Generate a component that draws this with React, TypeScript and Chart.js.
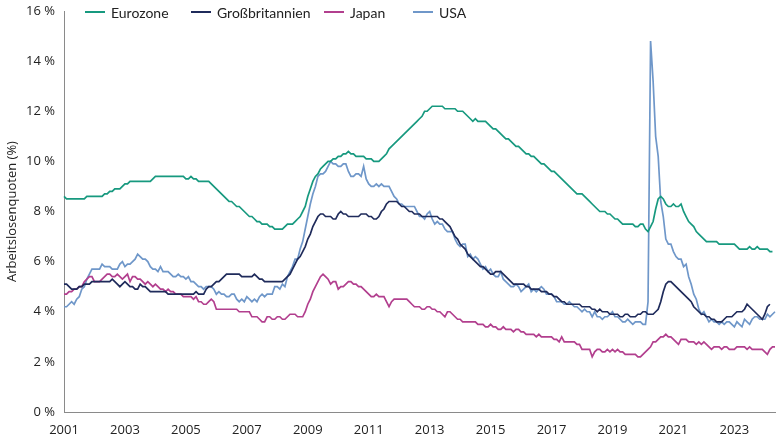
import React, { useEffect, useRef } from "react";
import { Chart, registerables } from "chart.js";

Chart.register(...registerables);

// ---- Data (monthly, Jan 2001 onward) ----
const startYear = 2001;
const monthCount = 281; // Jan 2001 .. May 2024

const eurozone = [
  8.6, 8.5, 8.5, 8.5, 8.5, 8.5, 8.5, 8.5, 8.5, 8.6, 8.6, 8.6,
  8.6, 8.6, 8.6, 8.6, 8.7, 8.7, 8.8, 8.8, 8.9, 8.9, 8.9, 9.0,
  9.1, 9.1, 9.2, 9.2, 9.2, 9.2, 9.2, 9.2, 9.2, 9.2, 9.2, 9.3,
  9.4, 9.4, 9.4, 9.4, 9.4, 9.4, 9.4, 9.4, 9.4, 9.4, 9.4, 9.4,
  9.3, 9.3, 9.4, 9.3, 9.3, 9.2, 9.2, 9.2, 9.2, 9.2, 9.1, 9.0,
  8.9, 8.8, 8.7, 8.6, 8.5, 8.4, 8.4, 8.3, 8.2, 8.2, 8.1, 8.0,
  7.9, 7.8, 7.8, 7.7, 7.6, 7.6, 7.5, 7.5, 7.5, 7.4, 7.4, 7.3,
  7.3, 7.3, 7.3, 7.4, 7.5, 7.5, 7.5, 7.6, 7.7, 7.8, 8.0, 8.2,
  8.6, 8.9, 9.2, 9.4, 9.5, 9.7, 9.8, 9.9, 10.0, 10.0, 10.1, 10.1,
  10.2, 10.2, 10.3, 10.3, 10.4, 10.3, 10.3, 10.2, 10.2, 10.2, 10.2, 10.1,
  10.1, 10.1, 10.0, 10.0, 10.0, 10.1, 10.2, 10.3, 10.5, 10.6, 10.7, 10.8,
  10.9, 11.0, 11.1, 11.2, 11.3, 11.4, 11.5, 11.6, 11.7, 11.8, 12.0, 12.0,
  12.1, 12.2, 12.2, 12.2, 12.2, 12.2, 12.1, 12.1, 12.1, 12.1, 12.1, 12.0,
  12.0, 12.0, 11.9, 11.8, 11.7, 11.6, 11.7, 11.6, 11.6, 11.6, 11.6, 11.5,
  11.4, 11.3, 11.3, 11.2, 11.1, 11.0, 10.9, 10.9, 10.8, 10.7, 10.6, 10.6,
  10.5, 10.4, 10.3, 10.3, 10.2, 10.2, 10.1, 10.0, 9.9, 9.9, 9.8, 9.7,
  9.6, 9.6, 9.5, 9.4, 9.3, 9.2, 9.1, 9.0, 8.9, 8.8, 8.7, 8.7,
  8.7, 8.6, 8.5, 8.4, 8.3, 8.2, 8.1, 8.0, 8.0, 8.0, 7.9, 7.9,
  7.8, 7.7, 7.7, 7.6, 7.5, 7.5, 7.5, 7.5, 7.5, 7.4, 7.4, 7.5,
  7.5, 7.3, 7.2, 7.4, 7.6, 8.1, 8.5, 8.6, 8.5, 8.3, 8.2, 8.2,
  8.3, 8.2, 8.2, 8.3, 8.0, 7.8, 7.6, 7.5, 7.4, 7.2, 7.1, 7.0,
  6.9, 6.8, 6.8, 6.8, 6.8, 6.8, 6.7, 6.7, 6.7, 6.7, 6.7, 6.7,
  6.7, 6.6, 6.5, 6.5, 6.5, 6.5, 6.6, 6.5, 6.5, 6.6, 6.5, 6.5,
  6.5, 6.5, 6.4, 6.4,
];

const grossbritannien = [
  5.1, 5.1, 5.0, 4.9, 4.9, 4.9, 5.0, 5.0, 5.1, 5.1, 5.1, 5.2,
  5.2, 5.2, 5.2, 5.2, 5.2, 5.2, 5.2, 5.3, 5.2, 5.1, 5.0, 5.1,
  5.2, 5.1, 5.0, 5.0, 4.9, 4.9, 5.1, 5.0, 5.0, 4.9, 4.8, 4.8,
  4.8, 4.8, 4.8, 4.8, 4.8, 4.7, 4.7, 4.7, 4.7, 4.7, 4.7, 4.7,
  4.7, 4.7, 4.7, 4.7, 4.8, 4.7, 4.7, 4.7, 4.9, 5.0, 5.0, 5.1,
  5.2, 5.2, 5.3, 5.4, 5.5, 5.5, 5.5, 5.5, 5.5, 5.5, 5.4, 5.4,
  5.4, 5.4, 5.4, 5.5, 5.4, 5.3, 5.3, 5.2, 5.2, 5.2, 5.2, 5.2,
  5.2, 5.2, 5.2, 5.3, 5.4, 5.5, 5.7, 5.9, 6.1, 6.2, 6.4, 6.6,
  6.9, 7.1, 7.4, 7.6, 7.8, 7.9, 7.9, 7.8, 7.8, 7.8, 7.7, 7.7,
  7.9, 8.0, 7.9, 7.9, 7.8, 7.8, 7.8, 7.8, 7.8, 7.9, 7.9, 7.9,
  7.8, 7.8, 7.7, 7.7, 7.8, 8.0, 8.1, 8.3, 8.4, 8.4, 8.4, 8.4,
  8.3, 8.2, 8.2, 8.1, 8.0, 8.0, 7.9, 7.9, 7.9, 7.8, 7.8, 7.8,
  7.8, 7.8, 7.8, 7.8, 7.7, 7.7, 7.6, 7.5, 7.4, 7.2, 7.0, 6.9,
  6.7, 6.6, 6.5, 6.3, 6.2, 6.1, 6.0, 5.9, 5.8, 5.8, 5.7, 5.6,
  5.5, 5.5, 5.6, 5.6, 5.6, 5.5, 5.4, 5.3, 5.2, 5.1, 5.1, 5.1,
  5.1, 5.1, 5.0, 5.0, 4.9, 4.9, 4.9, 4.9, 4.8, 4.8, 4.8, 4.7,
  4.7, 4.6, 4.6, 4.5, 4.4, 4.4, 4.3, 4.3, 4.3, 4.3, 4.3, 4.3,
  4.2, 4.2, 4.2, 4.2, 4.1, 4.1, 4.0, 4.1, 4.0, 4.0, 4.0, 3.9,
  3.9, 3.9, 3.9, 3.8, 3.8, 3.9, 3.9, 3.8, 3.8, 3.8, 3.9, 3.9,
  4.0, 4.0, 3.9, 3.9, 3.9, 4.0, 4.1, 4.4, 4.8, 5.1, 5.2, 5.2,
  5.1, 5.0, 4.9, 4.8, 4.7, 4.6, 4.5, 4.4, 4.2, 4.1, 4.0, 3.9,
  3.9, 3.8, 3.8, 3.7, 3.7, 3.6, 3.6, 3.6, 3.7, 3.8, 3.8, 3.8,
  3.9, 4.0, 4.0, 4.0, 4.1, 4.3, 4.2, 4.1, 4.0, 3.9, 3.8, 3.7,
  3.9, 4.2, 4.3,
];

const japan = [
  4.7, 4.7, 4.8, 4.8, 4.9, 4.9, 5.0, 5.0, 5.2, 5.3, 5.4, 5.4,
  5.2, 5.2, 5.2, 5.3, 5.4, 5.5, 5.5, 5.4, 5.4, 5.5, 5.4, 5.3,
  5.4, 5.5, 5.2, 5.4, 5.4, 5.3, 5.3, 5.2, 5.1, 5.2, 5.1, 5.0,
  5.1, 5.0, 4.9, 4.9, 4.8, 4.9, 4.8, 4.8, 4.7, 4.7, 4.7, 4.6,
  4.6, 4.6, 4.6, 4.5, 4.6, 4.4, 4.4, 4.3, 4.3, 4.4, 4.5, 4.4,
  4.1, 4.1, 4.1, 4.1, 4.1, 4.1, 4.1, 4.1, 4.1, 4.0, 4.0, 4.0,
  4.0, 4.0, 3.8, 3.8, 3.8, 3.7, 3.6, 3.6, 3.8, 3.8, 3.7, 3.7,
  3.8, 3.8, 3.7, 3.7, 3.8, 3.9, 3.9, 3.9, 3.8, 3.8, 3.8, 4.0,
  4.3, 4.5, 4.8, 5.0, 5.2, 5.4, 5.5, 5.4, 5.3, 5.1, 5.2, 5.2,
  4.9, 5.0, 5.0, 5.1, 5.2, 5.2, 5.1, 5.1, 5.0, 5.0, 4.9, 4.8,
  4.7, 4.6, 4.6, 4.7, 4.6, 4.6, 4.6, 4.4, 4.2, 4.4, 4.5, 4.5,
  4.5, 4.5, 4.5, 4.5, 4.4, 4.3, 4.2, 4.2, 4.2, 4.1, 4.1, 4.2,
  4.2, 4.1, 4.1, 4.0, 4.0, 3.9, 3.8, 4.0, 4.0, 3.9, 3.8, 3.7,
  3.7, 3.6, 3.6, 3.6, 3.6, 3.6, 3.6, 3.5, 3.5, 3.5, 3.4, 3.4,
  3.5, 3.4, 3.4, 3.3, 3.3, 3.4, 3.3, 3.3, 3.3, 3.2, 3.3, 3.3,
  3.2, 3.2, 3.1, 3.1, 3.1, 3.1, 3.0, 3.1, 3.0, 3.0, 3.0, 3.0,
  3.0, 2.9, 2.9, 2.8, 3.0, 2.8, 2.8, 2.8, 2.8, 2.8, 2.7, 2.7,
  2.5, 2.5, 2.5, 2.5, 2.2, 2.4, 2.5, 2.5, 2.4, 2.4, 2.5, 2.4,
  2.5, 2.4, 2.5, 2.4, 2.4, 2.3, 2.3, 2.3, 2.3, 2.3, 2.2, 2.2,
  2.3, 2.4, 2.5, 2.6, 2.8, 2.8, 2.9, 3.0, 3.0, 3.1, 3.0, 3.0,
  2.9, 2.8, 2.7, 2.9, 2.9, 2.9, 2.8, 2.8, 2.8, 2.7, 2.8, 2.7,
  2.8, 2.7, 2.6, 2.5, 2.6, 2.6, 2.6, 2.5, 2.6, 2.6, 2.5, 2.5,
  2.5, 2.6, 2.6, 2.6, 2.6, 2.5, 2.6, 2.5, 2.5, 2.5, 2.5, 2.5,
  2.4, 2.3, 2.5, 2.6, 2.6,
];

const usa = [
  4.2, 4.2, 4.3, 4.4, 4.3, 4.5, 4.6, 4.9, 5.0, 5.3, 5.5, 5.7,
  5.7, 5.7, 5.7, 5.9, 5.8, 5.8, 5.8, 5.7, 5.7, 5.7, 5.9, 6.0,
  5.8, 5.9, 5.9, 6.0, 6.1, 6.3, 6.2, 6.1, 6.1, 6.0, 5.8, 5.7,
  5.7, 5.6, 5.8, 5.6, 5.6, 5.6, 5.5, 5.4, 5.4, 5.5, 5.4, 5.4,
  5.3, 5.4, 5.2, 5.2, 5.1, 5.0, 5.0, 4.9, 5.0, 5.0, 5.0, 4.9,
  4.7, 4.8, 4.7, 4.7, 4.6, 4.6, 4.7, 4.7, 4.5, 4.4, 4.5, 4.4,
  4.6, 4.5, 4.4, 4.5, 4.4, 4.6, 4.7, 4.6, 4.7, 4.7, 4.7, 5.0,
  5.0, 4.9, 5.1, 5.0, 5.4, 5.6, 5.8, 6.1, 6.1, 6.5, 6.8, 7.3,
  7.8, 8.3, 8.7, 9.0, 9.4, 9.5, 9.5, 9.6, 9.8, 10.0, 9.9, 9.9,
  9.8, 9.8, 9.9, 9.9, 9.6, 9.4, 9.4, 9.5, 9.5, 9.4, 9.8, 9.3,
  9.1, 9.0, 9.0, 9.1, 9.0, 9.1, 9.0, 9.0, 9.0, 8.8, 8.6, 8.5,
  8.3, 8.3, 8.2, 8.2, 8.2, 8.2, 8.2, 8.0, 7.8, 7.8, 7.7, 7.9,
  8.0, 7.7, 7.5, 7.6, 7.5, 7.5, 7.3, 7.2, 7.2, 7.2, 6.9, 6.7,
  6.6, 6.7, 6.7, 6.2, 6.3, 6.1, 6.2, 6.1, 5.9, 5.7, 5.8, 5.6,
  5.7, 5.5, 5.4, 5.4, 5.6, 5.3, 5.2, 5.1, 5.0, 5.0, 5.1, 5.0,
  4.8, 4.9, 5.0, 5.1, 4.8, 4.9, 4.8, 4.9, 5.0, 4.9, 4.7, 4.7,
  4.7, 4.6, 4.4, 4.4, 4.4, 4.3, 4.3, 4.4, 4.3, 4.2, 4.2, 4.1,
  4.0, 4.1, 4.0, 4.0, 3.8, 4.0, 3.8, 3.8, 3.7, 3.8, 3.8, 3.9,
  4.0, 3.8, 3.8, 3.7, 3.6, 3.6, 3.7, 3.6, 3.5, 3.6, 3.6, 3.6,
  3.5, 3.5, 4.4, 14.8, 13.2, 11.0, 10.2, 8.4, 7.8, 6.9, 6.7, 6.7,
  6.4, 6.2, 6.1, 6.1, 5.8, 5.9, 5.4, 5.1, 4.7, 4.5, 4.1, 3.9,
  4.0, 3.8, 3.6, 3.7, 3.6, 3.6, 3.5, 3.6, 3.5, 3.6, 3.6, 3.5,
  3.4, 3.6, 3.5, 3.4, 3.7, 3.6, 3.5, 3.7, 3.8, 3.8, 3.7, 3.7,
  3.7, 3.9, 3.8, 3.9, 4.0,
];

const tickYears = [2001, 2003, 2005, 2007, 2009, 2011, 2013, 2015, 2017, 2019, 2021, 2023];
const yTicks = [0, 2, 4, 6, 8, 10, 12, 14, 16];

const seriesNames = ["Eurozone", "Großbritannien", "Japan", "USA"];
const seriesColors = ["#17997f", "#1f2b5b", "#b23f8e", "#6f97c9"];
const seriesData = [eurozone, grossbritannien, japan, usa];

const yTitle = "Arbeitslosenquoten (%)";

const labels: string[] = [];
for (let i = 0; i < monthCount; i++) {
  const y = startYear + Math.floor(i / 12);
  const m = (i % 12) + 1;
  labels.push(`${y}-${m < 10 ? "0" + m : m}`);
}

const FONT = "'Open Sans', 'Noto Sans', sans-serif";
const LEGEND_FONT = "Lato, 'Open Sans', sans-serif";
const legendLeft = [85, 191, 324, 413];

export default function App() {
  const canvasRef = useRef<HTMLCanvasElement | null>(null);

  useEffect(() => {
    document.body.style.margin = "0";
    const canvas = canvasRef.current;
    if (!canvas) return;
    const chart = new Chart(canvas, {
      type: "line",
      data: {
        labels,
        datasets: seriesData.map((d, i) => ({
          label: seriesNames[i],
          data: d,
          borderColor: seriesColors[i],
          backgroundColor: seriesColors[i],
          borderWidth: 1.7,
          pointRadius: 0,
          tension: 0,
          fill: false,
        })),
      },
      options: {
        responsive: false,
        animation: false,
        layout: { padding: { top: 11, right: 5, bottom: 0, left: 0 } },
        plugins: {
          legend: { display: false },
          tooltip: { enabled: false },
        },
        scales: {
          x: {
            type: "category",
            offset: false,
            grid: { display: false, drawTicks: true, tickLength: 8 },
            border: { display: true, color: "#8a8a8a", width: 1 },
            ticks: {
              autoSkip: false,
              maxRotation: 0,
              minRotation: 0,
              padding: 2,
              color: "#222",
              font: { family: FONT, size: 13 },
              callback: (_v: any, idx: number) => {
                const lab = labels[idx];
                const yr = Number(lab.slice(0, 4));
                const mo = lab.slice(5);
                return mo === "01" && tickYears.includes(yr) ? String(yr) : "";
              },
            },
            afterFit: (scale: any) => {
              scale.height = 28;
            },
          },
          y: {
            min: 0,
            max: 16,
            grid: { display: false, drawTicks: true, tickLength: 8 },
            border: { display: true, color: "#8a8a8a", width: 1 },
            afterBuildTicks: (scale: any) => {
              scale.ticks = yTicks.map((v) => ({ value: v }));
            },
            ticks: {
              padding: 1,
              color: "#222",
              font: { family: FONT, size: 13 },
              callback: (v: any) => `${v} %`,
            },
            title: {
              display: true,
              text: yTitle,
              color: "#222",
              font: { family: FONT, size: 13 },
              padding: { top: 4, bottom: 0 },
            },
            afterFit: (scale: any) => {
              scale.width = 64;
            },
          },
        },
      },
    });
    return () => chart.destroy();
  }, []);

  return (
    <div style={{ position: "absolute", left: 0, top: 0, width: 780, height: 440, background: "#fff" }}>
      <canvas ref={canvasRef} width={780} height={440} style={{ display: "block" }} />
      {seriesNames.map((name, i) => (
        <div
          key={name}
          style={{
            position: "absolute",
            left: legendLeft[i],
            top: 3,
            display: "flex",
            alignItems: "center",
            height: 18,
            fontFamily: LEGEND_FONT,
            fontSize: 14,
            color: "#222",
            whiteSpace: "nowrap",
          }}
        >
          <span style={{ display: "inline-block", width: 20, height: 2, background: seriesColors[i], marginRight: 6 }} />
          <span>{name}</span>
        </div>
      ))}
    </div>
  );
}
